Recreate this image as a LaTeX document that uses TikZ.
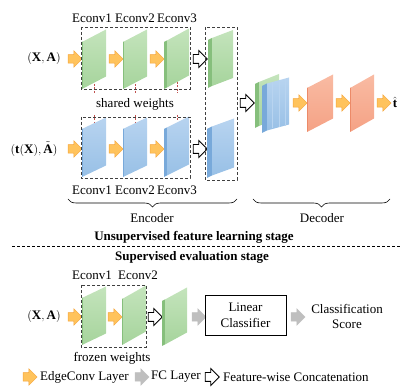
\documentclass[tikz,border=0pt]{standalone}
\usepackage{fontspec}
\setmainfont{Liberation Serif}
\usetikzlibrary{shapes.arrows,decorations.pathreplacing}
\definecolor{gF}{HTML}{A6D49C}\definecolor{gL}{HTML}{C4E4BC}\definecolor{gD}{HTML}{86BF7C}
\definecolor{bF}{HTML}{98C0E6}\definecolor{bL}{HTML}{B8D4F0}\definecolor{bD}{HTML}{78A9DA}
\definecolor{rF}{HTML}{F5A285}\definecolor{rL}{HTML}{F9BBA3}\definecolor{rD}{HTML}{EC8A68}
\definecolor{orF}{HTML}{FFC35C}\definecolor{orD}{HTML}{F5A43A}
\definecolor{grF}{HTML}{BFBFBF}
\definecolor{wred}{HTML}{C0504D}
\newcommand{\mypanel}[7]{%
 \fill[#7D] (#1,#2) -- ({#1+#6},{#2-0.5*#6}) -- ({#1+#6},{#2-0.5*#6+#5}) -- (#1,{#2+#5}) -- cycle;
 \shade[top color=#7L, bottom color=#7F] ({#1+#6},{#2-0.5*#6}) -- ({#1+#6+#3},{#2-0.5*#6-#4}) -- ({#1+#6+#3},{#2-0.5*#6-#4+#5}) -- ({#1+#6},{#2-0.5*#6+#5}) -- cycle;
}
\tikzset{
 blk/.style={single arrow, minimum height=14pt, minimum width=16pt, single arrow head extend=4pt, inner sep=4pt, single arrow head indent=0pt},
 edgearr/.style={blk, fill=orF, draw=orD, line width=0.5pt},
 fcarr/.style={blk, fill=grF, draw=grF, line width=0.5pt},
 catarr/.style={blk, fill=white, draw=black, line width=0.8pt},
 lab/.style={font=\fontsize{13}{15}\selectfont, inner sep=0pt},
 ttl/.style={font=\fontsize{13}{15}\selectfont\bfseries, inner sep=0pt},
 dbox/.style={draw=black!75, dash pattern=on 3pt off 2pt, line width=0.7pt},
 wdash/.style={draw=wred, dash pattern=on 2pt off 1.5pt, line width=0.8pt},
 brc/.style={draw, line width=0.6pt, decorate, decoration={brace, amplitude=8pt}},
}
\begin{document}
\begin{tikzpicture}[x=1pt,y=-1pt]
\useasboundingbox (0,0) rectangle (402,387);
% ---------- top branch ----------
\node[lab] (xa1) at (44,59) {$(\mathbf{X},\mathbf{A})$};
\node[edgearr] (ea1) at (73,59) {};
\mypanel{82}{42}{23}{12}{47}{1}{g}
\node[edgearr] (ea2) at (114,59) {};
\mypanel{123}{42}{23}{12}{47}{1}{g}
\node[edgearr] (ea3) at (155,59) {};
\mypanel{164}{42}{22}{12}{47}{3}{g}
\draw[dbox] (81,27) rectangle (190,89);
\node[lab] (e1t) at (92,18) {Econv1};
\node[lab] (e2t) at (135,18) {Econv2};
\node[lab] (e3t) at (177,18) {Econv3};
\draw[wdash] (94,84) -- (94,93);
\draw[wdash] (135,84) -- (135,93);
\draw[wdash] (177,82) -- (177,93);
\node[lab] (sw) at (135,104) {shared weights};
\draw[wdash] (94,115) -- (94,124);
\draw[wdash] (135,115) -- (135,124);
\draw[wdash] (177,115) -- (177,122);
% ---------- bottom branch ----------
\node[lab] (txa) at (34,149) {$(\mathbf{t}(\mathbf{X}),\tilde{\mathbf{A}})$};
\node[edgearr] (eb1) at (73,149) {};
\mypanel{82}{129}{23}{11}{48}{1}{b}
\node[edgearr] (eb2) at (114,149) {};
\mypanel{123}{129}{23}{11}{48}{1}{b}
\node[edgearr] (eb3) at (155,149) {};
\mypanel{164}{129}{22}{11}{48}{3}{b}
\draw[dbox] (81,117) rectangle (190,178);
\node[lab] (e1b) at (92,190) {Econv1};
\node[lab] (e2b) at (135,190) {Econv2};
\node[lab] (e3b) at (177,190) {Econv3};
% ---------- concatenation column ----------
\node[catarr] (c1) at (198,59) {};
\node[catarr] (c2) at (198,149) {};
\mypanel{208}{40}{21}{8}{48}{4}{g}
\mypanel{207}{129}{22}{8}{49}{5}{b}
\draw[dbox] (205,27) rectangle (237,180);
\node[catarr] (c3) at (245,103) {};
% ---------- decoder ----------
\mypanel{255}{84}{20}{8}{44}{4}{g}
\mypanel{262}{86}{22}{6}{47}{5}{b}
\draw[bL, line width=0.7pt] (272,82) -- (272,128);
\draw[bL, line width=0.7pt] (279,80) -- (279,127);
\draw[bL, line width=0.7pt] (285,79) -- (285,126);
\node[edgearr] (d1) at (298,103) {};
\mypanel{307}{88}{25}{13}{44}{1}{r}
\node[edgearr] (d2) at (341,103) {};
\mypanel{350}{88}{23}{13}{44}{1}{r}
\node[edgearr] (d3) at (382,103) {};
\node[lab] (that) at (395,102) {$\hat{\mathbf{t}}$};
% braces
\draw[brc] (237,199) -- (68,199);
\draw[brc] (390,199) -- (253,199);
\node[lab] (enc) at (152,218) {Encoder};
\node[lab] (dec) at (322,218) {Decoder};
% ---------- stage separator ----------
\node[ttl] (st1) at (194,237) {Unsupervised feature learning stage};
\draw[black, dash pattern=on 3pt off 2pt, line width=0.7pt] (12,246) -- (402,246);
\node[ttl] (st2) at (192,257) {Supervised evaluation stage};
% ---------- evaluation ----------
\node[lab] (e1c) at (92,275) {Econv1};
\node[lab] (e2c) at (138,275) {Econv2};
\node[lab] (xa2) at (44,317) {$(\mathbf{X},\mathbf{A})$};
\node[edgearr] (ec1) at (73,317) {};
\mypanel{82}{298}{23}{11}{47}{1}{g}
\node[edgearr] (ec2) at (113,317) {};
\mypanel{122}{299}{23}{13}{46}{1}{g}
\draw[dbox] (81,285) rectangle (146,347);
\node[catarr] (c4) at (153,317) {};
\mypanel{162}{301}{22}{12}{45}{3}{g}
\node[fcarr] (f1) at (197,317) {};
\node[draw, line width=0.9pt, minimum width=81pt, minimum height=40pt, align=center, font=\fontsize{13}{16}\selectfont, inner sep=0pt] (lc) at (245.5,315) {Linear\\Classifier};
\node[fcarr] (f2) at (296,317) {};
\node[lab, align=center, font=\fontsize{13}{15}\selectfont] (cs) at (347,316) {Classification\\Score};
\node[lab] (fw) at (112,358) {frozen weights};
% ---------- legend ----------
\node[edgearr] (l1) at (28,377) {};
\node[lab, anchor=west] (l1t) at (40,377) {EdgeConv Layer};
\node[fcarr] (l2) at (140,377) {};
\node[lab, anchor=west] (l2t) at (151,377) {FC Layer};
\node[catarr] (l3) at (210,377) {};
\node[lab, anchor=west] (l3t) at (223,377) {Feature-wise Concatenation};
\end{tikzpicture}
\end{document}
